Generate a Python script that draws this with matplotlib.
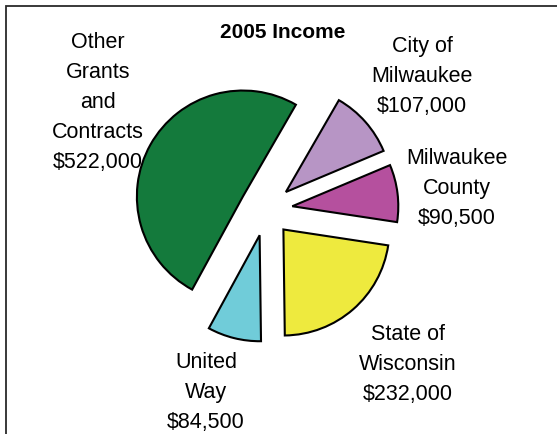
import matplotlib
matplotlib.use("Agg")
import matplotlib.pyplot as plt
from matplotlib.patches import Rectangle

# data
names = ["City of\nMilwaukee", "Milwaukee\nCounty", "State of\nWisconsin",
         "United\nWay", "Other\nGrants\nand\nContracts"]
income = [107000, 90500, 232000, 84500, 522000]
colors = ["#b795c5", "#b5509e", "#eeea3e", "#70ccd9", "#147a3c"]
title = "2005 Income"

# layout (pixel coords, y from top)
W, H = 557, 434
pie_center = (266, 209.5)
pie_radius = 106
explode_px = 26.5
label_pos = [(422, 45), (457, 157), (408, 333), (206, 361), (98, 41)]  # first line centre
line_step = 30

plt.rcParams["font.family"] = ["Liberation Sans", "DejaVu Sans"]

fig = plt.figure(figsize=(W / 100, H / 100), dpi=100)
ax = fig.add_axes([0, 0, 1, 1])

# explode is in data units here (1 unit = 1 px)
ax.pie(income, colors=colors, startangle=60, counterclock=False,
       explode=[explode_px] * len(income), radius=pie_radius,
       center=(pie_center[0], H - pie_center[1]),
       wedgeprops={"edgecolor": "black", "linewidth": 1.5, "joinstyle": "miter"})

ax.set_xlim(0, W)
ax.set_ylim(0, H)
ax.set_aspect("equal")
ax.axis("off")

# outer chart border (runs off the right and bottom of the image)
ax.add_patch(Rectangle((5.5, -50), W + 100, H - 6 + 50, fill=False,
                       edgecolor="#2a2a2a", linewidth=1.3))

ax.text(283, H - 33, title, ha="center", va="center", fontsize=15,
        fontweight="bold")

for name, val, (x, y) in zip(names, income, label_pos):
    lines = name.split("\n") + [f"${val:,}"]
    for i, line in enumerate(lines):
        ax.text(x, H - (y + i * line_step) - 7, line, ha="center",
                va="baseline", fontsize=15.5)

fig.savefig("out.png", dpi=100)
